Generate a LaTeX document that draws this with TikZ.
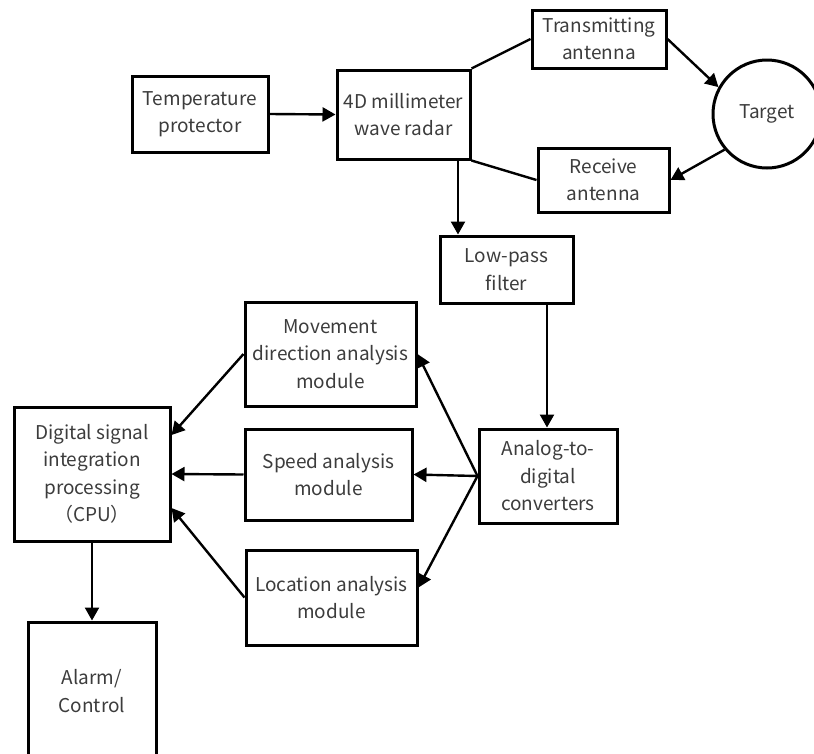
\documentclass[tikz,border=0pt]{standalone}
\usepackage{fontspec}
\setmainfont{Noto Sans CJK SC}
\usetikzlibrary{arrows.meta}
\definecolor{txt}{HTML}{3C3C3C}
\tikzset{
  blk/.style={draw=black, line width=3pt, fill=white, inner sep=0pt, align=center,
    text=txt, font=\fontsize{19}{27.5}\selectfont},
  conn/.style={line width=2.4pt},
  arr/.style={conn, -{Triangle[length=13pt,width=14pt]}},
}
\begin{document}
\begin{tikzpicture}[x=1pt,y=-1pt]
\useasboundingbox (0,0) rectangle (814,753);
\node[blk, minimum width=136pt, minimum height=76pt] (temp) at (200,114) {Temperature\\protector};
\node[blk, minimum width=133pt, minimum height=89pt] (radar) at (403.5,114.5) {4D millimeter\\wave radar};
\node[blk, minimum width=134pt, minimum height=58pt] (tx) at (599,39) {Transmitting\\antenna};
\node[blk, minimum width=131pt, minimum height=64pt] (rx) at (603.5,180) {Receive\\antenna};
\node[blk, circle, minimum size=108pt] (target) at (767,114) {Target};
\node[blk, minimum width=133pt, minimum height=67pt] (lpf) at (506.5,269.5) {Low-pass\\filter};
\node[blk, minimum width=138pt, minimum height=94pt] (adc) at (548,476) {Analog-to-\\digital\\converters};
\node[blk, minimum width=171pt, minimum height=104pt] (move) at (330.5,354) {Movement\\direction analysis\\module};
\node[blk, minimum width=167pt, minimum height=91pt] (speed) at (328.5,474.5) {Speed analysis\\module};
\node[blk, minimum width=171pt, minimum height=95pt] (loc) at (331.5,597.5) {Location analysis\\module};
\node[blk, minimum width=156pt, minimum height=134pt] (dsp) at (92,474) {Digital signal\\integration\\processing\\（CPU）};
\node[blk, minimum width=128pt, minimum height=138pt] (alarm) at (92,691) {Alarm/\\Control};
\coordinate (cx1) at (458,0);
\coordinate (cx2) at (547,0);
\draw[arr] (temp.east) -- (radar.west);
\draw[conn] (radar.north east) -- (tx.west);
\draw[conn] (radar.south east) -- (rx.west);
\draw[arr] (tx.east) -- (target.151);
\draw[arr] (target.220) -- (rx.east);
\draw[arr] (radar.south -| cx1) -- (lpf.north -| cx1);
\draw[arr] (lpf.south -| cx2) -- (adc.north -| cx2);
\draw[arr] (adc.west) -- (move.east);
\draw[arr] (adc.west) -- (speed.east);
\draw[arr] (adc.west) -- ([yshift=10pt]loc.east);
\draw[arr] (move.west) -- ([yshift=39pt]dsp.east);
\draw[arr] (speed.west) -- (dsp.east);
\draw[arr] (loc.west) -- ([yshift=-34pt]dsp.east);
\draw[arr] (dsp.south) -- (alarm.north);
\end{tikzpicture}
\end{document}
